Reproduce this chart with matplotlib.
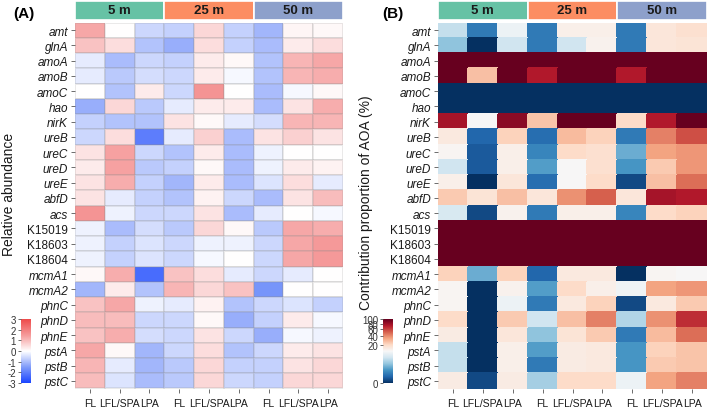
import numpy as np
import matplotlib
matplotlib.use('Agg')
import matplotlib.pyplot as plt
from matplotlib import font_manager
from matplotlib.colors import LinearSegmentedColormap, PowerNorm, Normalize
from matplotlib.patches import Rectangle

plt.rcParams['font.family'] = ['Liberation Sans', 'DejaVu Sans']
plt.rcParams['axes.unicode_minus'] = False

# narrow face for the squeezed-looking labels, if the system has it
_names = {f.name for f in font_manager.fontManager.ttflist}
NARROW = 'Liberation Sans Narrow' in _names
lab_family = ['Liberation Sans Narrow', 'Liberation Sans'] if NARROW else ['Liberation Sans']
ylab_size = 9 if NARROW else 8.5
xlab_size = 9 if NARROW else 7.5

genes = ["amt", "glnA", "amoA", "amoB", "amoC", "hao", "nirK", "ureB", "ureC",
         "ureD", "ureE", "abfD", "acs", "K15019", "K18603", "K18604", "mcmA1",
         "mcmA2", "phnC", "phnD", "phnE", "pstA", "pstB", "pstC"]
upright = {"K15019", "K18603", "K18604"}
depths = ["5 m", "25 m", "50 m"]
depth_colors = ["#66C2A5", "#FC8D62", "#8DA0CB"]
fractions = ["FL", "LFL/SPA", "LPA"]

# (A) relative abundance, z-scores; columns: 5m FL/LFL/LPA, 25m ..., 50m ...
rel_abund = [
    [1.3, 0.0, -0.6, -0.7, 0.6, -0.7, -1.1, 0.15, 0.1],
    [0.9, 0.5, -0.9, -1.2, 0.5, -0.7, -1.0, 0.3, 0.5],
    [-0.3, -1.0, -0.6, -0.7, 0.3, 0.1, -0.9, 1.1, 1.3],
    [-0.3, -0.8, -0.5, -0.6, 0.3, -0.1, -0.9, 1.1, 1.2],
    [0.0, -0.9, 0.3, -0.6, 1.6, 0.0, -1.0, -0.1, 0.1],
    [-1.2, 0.6, -0.8, -0.3, 0.3, 0.3, -1.0, 0.4, 1.2],
    [-0.7, -0.9, -0.9, 0.4, 0.1, -0.3, -0.5, 1.1, 1.1],
    [-0.6, 0.5, -2.0, -0.3, 0.7, -1.0, 0.4, 0.7, 0.4],
    [0.4, 1.4, -0.6, -0.9, 0.3, -1.0, -0.2, 0.0, 0.0],
    [0.3, 1.4, -0.8, -0.7, 0.1, -1.0, -0.2, 0.3, 0.2],
    [0.4, 1.2, -0.7, -1.1, 0.3, -1.0, -0.4, 0.5, -0.3],
    [0.4, -0.3, -0.7, -0.9, 0.2, -0.6, -1.0, 0.4, 1.0],
    [1.6, -0.2, -0.6, -0.6, 0.4, -1.0, -0.3, 0.0, -0.1],
    [-0.2, -1.0, -0.5, -0.8, 0.6, 0.1, -0.8, 1.3, 1.2],
    [-0.2, -0.7, -0.4, -0.6, -0.2, -0.2, -0.6, 1.3, 1.5],
    [-0.2, -0.7, -0.4, -0.6, -0.1, 0.0, -0.6, 1.3, 1.5],
    [0.1, 1.2, -2.3, 0.9, 0.5, -0.3, -0.6, -0.3, 0.0],
    [-1.1, 0.3, -0.9, 1.1, 0.6, 0.9, -1.6, 0.0, 0.0],
    [0.9, 1.3, -0.2, -0.3, 0.2, -0.9, -0.6, -0.4, -0.7],
    [1.0, 1.0, -0.6, -0.6, 0.1, -1.2, -0.7, 0.3, -0.1],
    [0.9, 1.2, -0.5, -0.6, 0.4, -0.6, -1.2, -0.1, -0.2],
    [1.3, 0.1, -1.1, -0.6, 0.5, -0.9, -0.6, 0.3, 0.4],
    [1.1, -0.3, -1.1, -0.8, 0.6, -0.7, -0.7, 0.4, 0.6],
    [1.0, -0.4, -1.0, -0.8, 0.6, -0.6, -0.7, 0.6, 0.6],
]

# (B) contribution proportion of AOA (%)
aoa_pct = [
    [5.3, 0.3, 10.1, 0.3, 14.6, 14.6, 0.3, 17.2, 19.2],
    [2.6, 0.0, 6.2, 0.3, 6.2, 13.8, 0.3, 17.2, 18.2],
    [100, 100, 100, 100, 100, 100, 100, 100, 100],
    [100, 27, 100, 73, 100, 100, 73, 100, 100],
    [0, 0, 0, 0, 0, 0, 0, 0, 0],
    [0, 0, 0, 0, 0, 0, 0, 0, 0],
    [77, 12.3, 86, 26, 100, 100, 21, 73, 100],
    [16.3, 0.1, 23, 0.16, 28, 23, 0.3, 42, 55],
    [13, 0.05, 14.6, 0.46, 21, 19.2, 1.5, 34, 37],
    [6.2, 0.05, 14.6, 1.0, 12.3, 19.2, 0.8, 24.6, 37],
    [14.6, 0.0, 17.2, 0.16, 12.3, 21, 0.01, 27, 47],
    [24.6, 18.2, 27, 17.2, 38.6, 51, 17.2, 77, 73],
    [7.2, 0.01, 13.8, 0.3, 14.6, 14.6, 0.46, 21, 23],
    [100, 100, 100, 100, 100, 100, 100, 100, 100],
    [100, 100, 100, 100, 100, 100, 100, 100, 100],
    [100, 100, 100, 100, 100, 100, 100, 100, 100],
    [23, 1.5, 23, 0.1, 16.3, 16.3, 0, 13, 12.3],
    [13, 0, 13.8, 1.0, 21, 14.6, 10.8, 34, 37],
    [13, 0, 10.1, 0.3, 16.3, 23, 0.01, 16.3, 24.6],
    [21, 0, 24.6, 6.2, 27, 42, 4.1, 38.6, 65],
    [15.4, 0, 17.2, 2.6, 18.2, 24.6, 0.3, 28, 47],
    [5.3, 0, 14.6, 1.0, 15.4, 16.3, 0.8, 23, 26],
    [5.3, 0, 14.6, 0.3, 15.4, 16.3, 0.8, 24.6, 26],
    [15.4, 0.01, 15.4, 3.5, 21, 21, 10.1, 34, 42],
]

W, H = 708, 410
fig = plt.figure(figsize=(W / 100, H / 100), dpi=100)


def box(x0, y0, x1, y1):
    # pixel box (top-left origin) -> figure fraction rect
    return [x0 / W, 1 - y1 / H, (x1 - x0) / W, (y1 - y0) / H]


def draw_heat(rect, hdr_rect, data, cmap, norm, edge):
    ax = fig.add_axes(rect)
    arr = np.array(data, dtype=float)
    ax.pcolormesh(np.arange(arr.shape[1] + 1), np.arange(arr.shape[0] + 1), arr,
                  cmap=cmap, norm=norm, edgecolor=edge, linewidth=0.3)
    ax.set_xlim(0, arr.shape[1])
    ax.set_ylim(arr.shape[0], 0)
    ax.set_yticks(np.arange(len(genes)) + 0.5)
    ax.set_yticklabels(genes, fontsize=ylab_size, family=lab_family)
    for lab in ax.get_yticklabels():
        if lab.get_text() not in upright:
            lab.set_fontstyle('italic')
    ax.set_xticks(np.arange(9) + 0.5)
    ax.set_xticklabels(fractions * 3, fontsize=xlab_size, family=lab_family)
    ax.tick_params(length=3, width=0.6, color='#555555', pad=2, labelcolor='#1a1a1a')
    ax.tick_params(axis='x', pad=4)
    for s in ax.spines.values():
        s.set_visible(False)

    hdr = fig.add_axes(hdr_rect)
    for i, (d, c) in enumerate(zip(depths, depth_colors)):
        hdr.add_patch(Rectangle((i * 3, 0), 3, 1, facecolor=c, edgecolor='white', linewidth=1.2))
        hdr.text(i * 3 + 1.5, 0.5, d, ha='center', va='center', fontsize=9.5,
                 fontweight='bold', color='#1a1a1a')
    hdr.set_xlim(0, 9)
    hdr.set_ylim(0, 1)
    hdr.axis('off')
    return ax


cmap_a = LinearSegmentedColormap.from_list(
    'bwr_soft', [(0.0, '#1A44FF'), (0.25, '#7F9BFA'), (0.5, '#FFFFFF'),
                 (0.75, '#F59A9A'), (1.0, '#EE4B4B')])
norm_a = Normalize(vmin=-3, vmax=3)
norm_b = PowerNorm(gamma=0.33, vmin=0, vmax=100)
cmap_b = plt.get_cmap('RdBu_r')

draw_heat(box(75, 23.5, 343, 389.5), box(75, 2, 343, 21), rel_abund, cmap_a, norm_a,
          (0.55, 0.55, 0.55, 0.18))
draw_heat(box(438, 23.5, 707, 389.5), box(438, 2, 707, 21), aoa_pct, cmap_b, norm_b,
          'face')

# colour keys
cax_a = fig.add_axes(box(21, 320, 31, 384))
cb_a = fig.colorbar(plt.cm.ScalarMappable(norm=norm_a, cmap=cmap_a), cax=cax_a,
                    ticks=[-3, -2, -1, 0, 1, 2, 3])
cax_b = fig.add_axes(box(383, 320, 393, 384))
cb_b = fig.colorbar(plt.cm.ScalarMappable(norm=norm_b, cmap=cmap_b), cax=cax_b,
                    ticks=[0, 20, 40, 60, 80, 100])
for cb in (cb_a, cb_b):
    cb.outline.set_visible(False)
    cb.ax.yaxis.set_ticks_position('left')
    cb.ax.tick_params(labelsize=7, length=2.5, width=0.6, color='#555555', pad=1,
                      labelcolor='#333333')
    cb.ax.minorticks_off()

fig.text(9 / W, 1 - 194 / H, "Relative abundance", rotation=90, ha='center',
         va='center', fontsize=10, color='#1a1a1a')
fig.text(366 / W, 1 - 203 / H, "Contribution proportion of AOA (%)", rotation=90,
         ha='center', va='center', fontsize=10, color='#1a1a1a')
fig.text(24 / W, 1 - 14 / H, "(A)", ha='center', va='center', fontsize=11,
         fontweight='bold')
fig.text(393 / W, 1 - 14 / H, "(B)", ha='center', va='center', fontsize=11,
         fontweight='bold')

fig.savefig('out.png', dpi=100)
